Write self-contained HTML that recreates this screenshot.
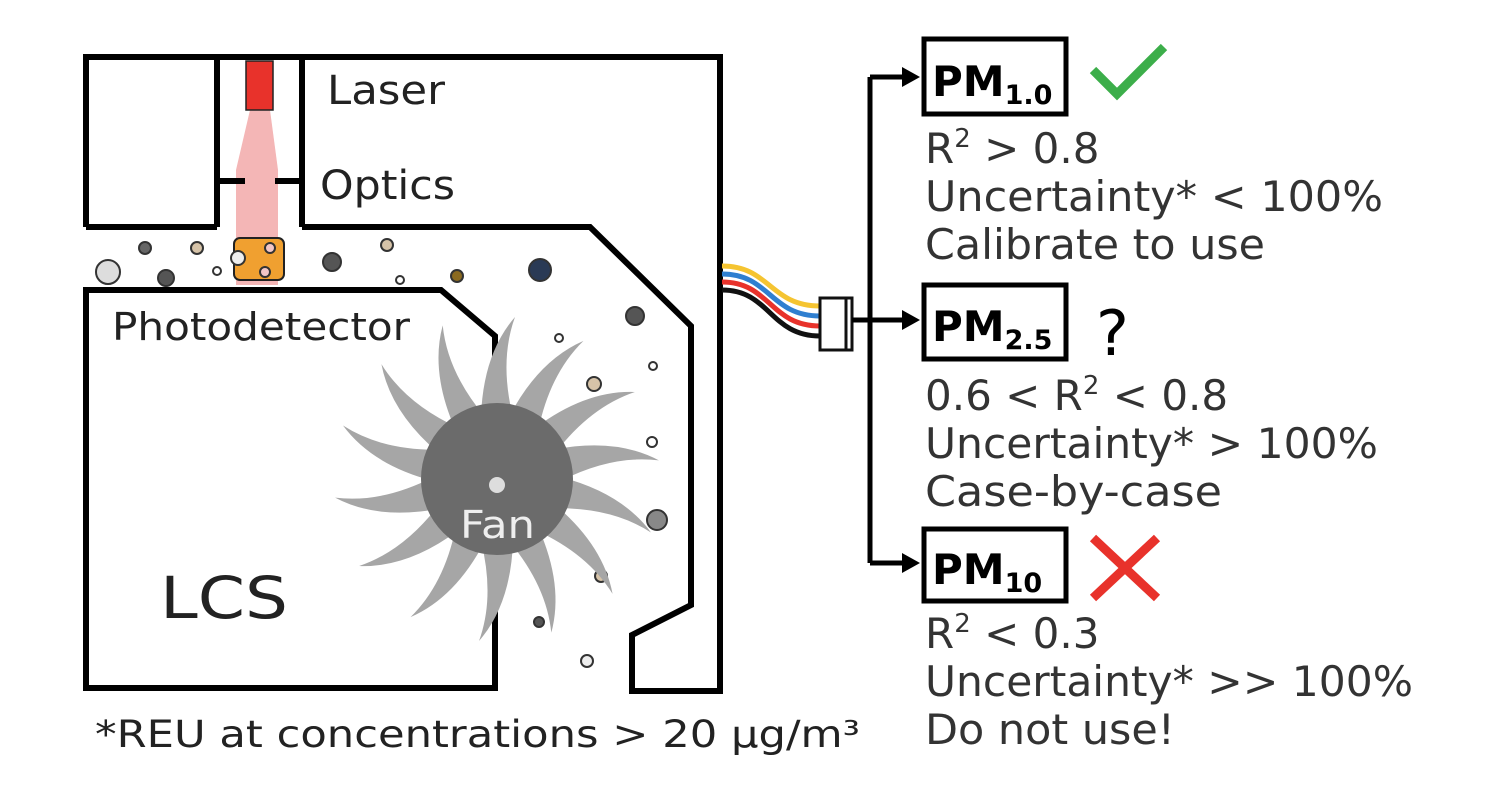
<!DOCTYPE html>
<html><head><meta charset="utf-8"><style>
html,body{margin:0;padding:0;background:#fff;width:1500px;height:804px;overflow:hidden}
svg{display:block}
text{font-family:"DejaVu Sans","Liberation Sans",sans-serif}
</style></head><body>
<svg width="1500" height="804" viewBox="0 0 1500 804" xmlns="http://www.w3.org/2000/svg">
<polygon points="250,110 270,110 278,170 278,285 236,285 236,170" fill="#f4b6b6"/>
<g fill="none" stroke="#000" stroke-width="6" stroke-linejoin="miter">
<path d="M86,227 L86,57 L720,57 L720,691 L632,691 L632,635 L691,605 L691,326 L590,227 L302,227"/>
<path d="M86,227 L217,227"/>
<path d="M217,57 L217,227 M302,57 L302,227 M217,181 L245,181 M275,181 L302,181"/>
<path d="M86,290 L441,290 L495,336 L495,688 L86,688 Z"/>
</g>
<rect x="246" y="61" width="27" height="49" fill="#e8322b" stroke="#222" stroke-width="1.5"/>
<rect x="234" y="238" width="50" height="42" rx="6" fill="#f0a030" stroke="#222" stroke-width="2"/>
<g stroke="#333" stroke-width="2">
<circle cx="108" cy="272" r="12" fill="#ddd"/>
<circle cx="145" cy="248" r="6" fill="#666"/>
<circle cx="166" cy="278" r="8" fill="#555"/>
<circle cx="197" cy="248" r="6" fill="#d6c3a8"/>
<circle cx="217" cy="271" r="4" fill="#fff"/>
<circle cx="238" cy="258" r="7" fill="#eee"/>
<circle cx="270" cy="248" r="5" fill="#f2c6c6"/>
<circle cx="265" cy="272" r="5" fill="#f2c6c6"/>
<circle cx="332" cy="262" r="9" fill="#555"/>
<circle cx="387" cy="245" r="6" fill="#d6c3a8"/>
<circle cx="400" cy="280" r="4" fill="#fff"/>
<circle cx="457" cy="276" r="6" fill="#8b6a20"/>
<circle cx="540" cy="270" r="11" fill="#2a3a55"/>
<circle cx="635" cy="316" r="9" fill="#555"/>
<circle cx="559" cy="338" r="4" fill="#fff"/>
<circle cx="653" cy="366" r="4" fill="#fff"/>
<circle cx="594" cy="384" r="7" fill="#d6c3a8"/>
<circle cx="652" cy="442" r="5" fill="#fff"/>
<circle cx="657" cy="520" r="10" fill="#888"/>
<circle cx="601" cy="576" r="6" fill="#d6c3a8"/>
<circle cx="539" cy="622" r="5" fill="#555"/>
<circle cx="587" cy="661" r="6" fill="#eee"/>
</g>
<g transform="translate(497,479)" fill="#a6a6a6">
<g id="bl"><path d="M-16,-62 Q-14,-125 18,-162 Q2,-118 16,-62 Z"/></g>
<use href="#bl" transform="rotate(25.7)"/><use href="#bl" transform="rotate(51.4)"/>
<use href="#bl" transform="rotate(77.1)"/><use href="#bl" transform="rotate(102.8)"/>
<use href="#bl" transform="rotate(128.5)"/><use href="#bl" transform="rotate(154.2)"/>
<use href="#bl" transform="rotate(180)"/><use href="#bl" transform="rotate(205.7)"/>
<use href="#bl" transform="rotate(231.4)"/><use href="#bl" transform="rotate(257.1)"/>
<use href="#bl" transform="rotate(282.8)"/><use href="#bl" transform="rotate(308.5)"/>
<use href="#bl" transform="rotate(334.2)"/>
<circle r="76" fill="#6b6b6b"/>
<circle cx="0" cy="6" r="8" fill="#ddd"/>
</g>
<text x="460" y="538" font-size="38" fill="#eee" textLength="75" lengthAdjust="spacingAndGlyphs">Fan</text>
<text x="327" y="104" font-size="40" fill="#222" textLength="118" lengthAdjust="spacingAndGlyphs">Laser</text>
<text x="320" y="199" font-size="40" fill="#222" textLength="135" lengthAdjust="spacingAndGlyphs">Optics</text>
<text x="112" y="340" font-size="38" fill="#222" textLength="298" lengthAdjust="spacingAndGlyphs">Photodetector</text>
<text x="160" y="618" font-size="58" fill="#222" textLength="128" lengthAdjust="spacingAndGlyphs">LCS</text>
<text x="95" y="747" font-size="37" fill="#222" textLength="765" lengthAdjust="spacingAndGlyphs">*REU at concentrations &gt; 20 µg/m³</text>
<g fill="none" stroke-width="5">
<path d="M722,266 C770,266 770,306 820,306" stroke="#f5c431"/>
<path d="M722,274 C770,274 770,316 820,316" stroke="#2f7fd0"/>
<path d="M722,282 C770,282 770,326 820,326" stroke="#e8322b"/>
<path d="M722,290 C770,290 770,336 820,336" stroke="#111"/>
</g>
<rect x="820" y="298" width="26" height="52" fill="#fff" stroke="#111" stroke-width="3"/>
<rect x="846" y="298" width="6" height="52" fill="#fff" stroke="#111" stroke-width="3"/>
<g stroke="#000" stroke-width="5" fill="none">
<path d="M870,77 L870,563 M852,320 L904,320 M870,77 L904,77 M870,563 L904,563"/>
</g>
<g fill="#000">
<polygon points="902,67 920,77 902,87"/>
<polygon points="902,310 920,320 902,330"/>
<polygon points="902,553 920,563 902,573"/>
</g>
<g fill="none" stroke="#000" stroke-width="5">
<rect x="924" y="39" width="142" height="75"/>
<rect x="924" y="285" width="142" height="74"/>
<rect x="924" y="529" width="142" height="72"/>
</g>
<g font-weight="bold" fill="#000">
<text x="932" y="96" font-size="42">PM<tspan font-size="27" dy="8">1.0</tspan></text>
<text x="932" y="341" font-size="42">PM<tspan font-size="27" dy="8">2.5</tspan></text>
<text x="932" y="584" font-size="42">PM<tspan font-size="27" dy="8">10</tspan></text>
</g>
<polyline points="1093,70 1117,94 1164,47" fill="none" stroke="#3cae4a" stroke-width="9"/>
<text x="1096" y="355" font-size="62" fill="#000">?</text>
<g stroke="#e8322b" stroke-width="9"><path d="M1093,538 L1157,598 M1157,538 L1093,598"/></g>
<g font-size="42" fill="#333">
<text x="925" y="163">R<tspan font-size="26" dy="-16">2</tspan><tspan dy="16"> &gt; 0.8</tspan></text>
<text x="925" y="211" textLength="458" lengthAdjust="spacingAndGlyphs">Uncertainty* &lt; 100%</text>
<text x="925" y="259" textLength="340" lengthAdjust="spacingAndGlyphs">Calibrate to use</text>
<text x="925" y="410">0.6 &lt; R<tspan font-size="26" dy="-16">2</tspan><tspan dy="16"> &lt; 0.8</tspan></text>
<text x="925" y="458" textLength="453" lengthAdjust="spacingAndGlyphs">Uncertainty* &gt; 100%</text>
<text x="925" y="506" textLength="297" lengthAdjust="spacingAndGlyphs">Case-by-case</text>
<text x="925" y="648">R<tspan font-size="26" dy="-16">2</tspan><tspan dy="16"> &lt; 0.3</tspan></text>
<text x="925" y="696" textLength="488" lengthAdjust="spacingAndGlyphs">Uncertainty* &gt;&gt; 100%</text>
<text x="925" y="744" textLength="250" lengthAdjust="spacingAndGlyphs">Do not use!</text>
</g>
</svg>
</body></html>
